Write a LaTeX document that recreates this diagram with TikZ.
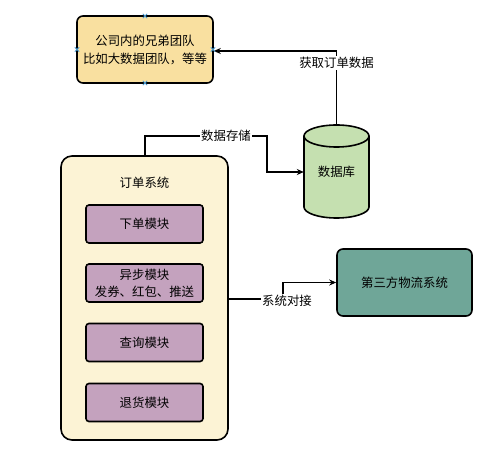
\documentclass[tikz,border=0pt]{standalone}
\usepackage{fontspec}
\setmainfont{Noto Sans CJK SC}
\usetikzlibrary{arrows.meta}
\definecolor{topfill}{HTML}{F9E0A0}
\definecolor{sysfill}{HTML}{FCF3D5}
\definecolor{modfill}{HTML}{C4A2BE}
\definecolor{tealfill}{HTML}{6FA698}
\definecolor{dbfill}{HTML}{C5E0B0}
\definecolor{handle}{HTML}{4A9AD0}
\tikzset{
  box/.style={draw=black, line width=1.6pt, align=center, inner sep=0pt,
    font=\fontsize{12.4}{17}\selectfont},
  conn/.style={draw=black, line width=1.1pt, -{Stealth[length=7pt,width=6pt]}},
  lbl/.style={fill=white, inner sep=1pt, font=\fontsize{12.4}{15}\selectfont},
  hmark/.style={draw=handle, line width=0.8pt}
}
\begin{document}
\begin{tikzpicture}[x=1pt,y=1pt]
\useasboundingbox (0,0) rectangle (500,458);
% top box
\node[box, fill=topfill, rounded corners=6pt, minimum width=136pt, minimum height=67pt,
  font=\fontsize{12.4}{18}\selectfont]
  (team) at (145,408.5) {公司内的兄弟团队\\比如大数据团队，等等};
% order system
\node[box, fill=sysfill, rounded corners=11pt, minimum width=167pt, minimum height=284pt]
  (sys) at (144.5,160) {};
\node[font=\fontsize{12.4}{15}\selectfont] (systitle) at (144.5,275) {订单系统};
\node[box, fill=modfill, rounded corners=3pt, minimum width=117pt, minimum height=38pt]
  (m1) at (144.5,234) {下单模块};
\node[box, fill=modfill, rounded corners=3pt, minimum width=117pt, minimum height=38pt]
  (m2) at (144.5,175) {异步模块\\发券、红包、推送};
\node[box, fill=modfill, rounded corners=3pt, minimum width=117pt, minimum height=38pt]
  (m3) at (144.5,115.5) {查询模块};
\node[box, fill=modfill, rounded corners=3pt, minimum width=117pt, minimum height=38pt]
  (m4) at (144.5,55.5) {退货模块};
% teal box
\node[box, fill=tealfill, rounded corners=6pt, minimum width=135pt, minimum height=67pt]
  (logi) at (404.5,175.5) {第三方物流系统};
% database cylinder
\fill[dbfill] (304,322) -- (304,251) arc[start angle=180,end angle=360,x radius=32.5,y radius=11]
  -- (369,322) -- cycle;
\fill[dbfill] (336.5,322) ellipse[x radius=32.5,y radius=11];
\draw[line width=1.6pt] (304,322) -- (304,251) arc[start angle=180,end angle=360,x radius=32.5,y radius=11]
  -- (369,322);
\draw[line width=1.6pt] (336.5,322) ellipse[x radius=32.5,y radius=11];
\node[inner sep=0pt, minimum width=65pt, minimum height=93pt] (db) at (336.5,286.5) {};
\node[font=\fontsize{12.4}{15}\selectfont] (dblabel) at (336.5,286) {数据库};
% connectors
\coordinate (c1) at (336.5,407);
\draw[conn] (db.north) -- (c1) -- (team.east |- c1);
\node[lbl] (l1) at (336.5,395) {获取订单数据};
\coordinate (c2a) at (145,322);
\coordinate (c2b) at (267,322);
\coordinate (c2c) at (267,286);
\draw[conn] (sys.north -| c2a) -- (c2a) -- (c2b) -- (c2c) -- (db.west |- c2c);
\node[lbl] (l2) at (226,322) {数据存储};
\coordinate (c3a) at (283,159);
\coordinate (c3b) at (283,175.5);
\draw[conn] (sys.east |- c3a) -- (c3a) -- (c3b) -- (logi.west);
\node[lbl] (l3) at (287,157) {系统对接};
% selection handles
\foreach \p in {(145,442),(145,375),(77,408.5),(213,408.5)}{
  \draw[hmark] \p ++(-2.2,-2.2) -- ++(4.4,4.4) \p ++(-2.2,2.2) -- ++(4.4,-4.4);
}
\end{tikzpicture}
\end{document}
